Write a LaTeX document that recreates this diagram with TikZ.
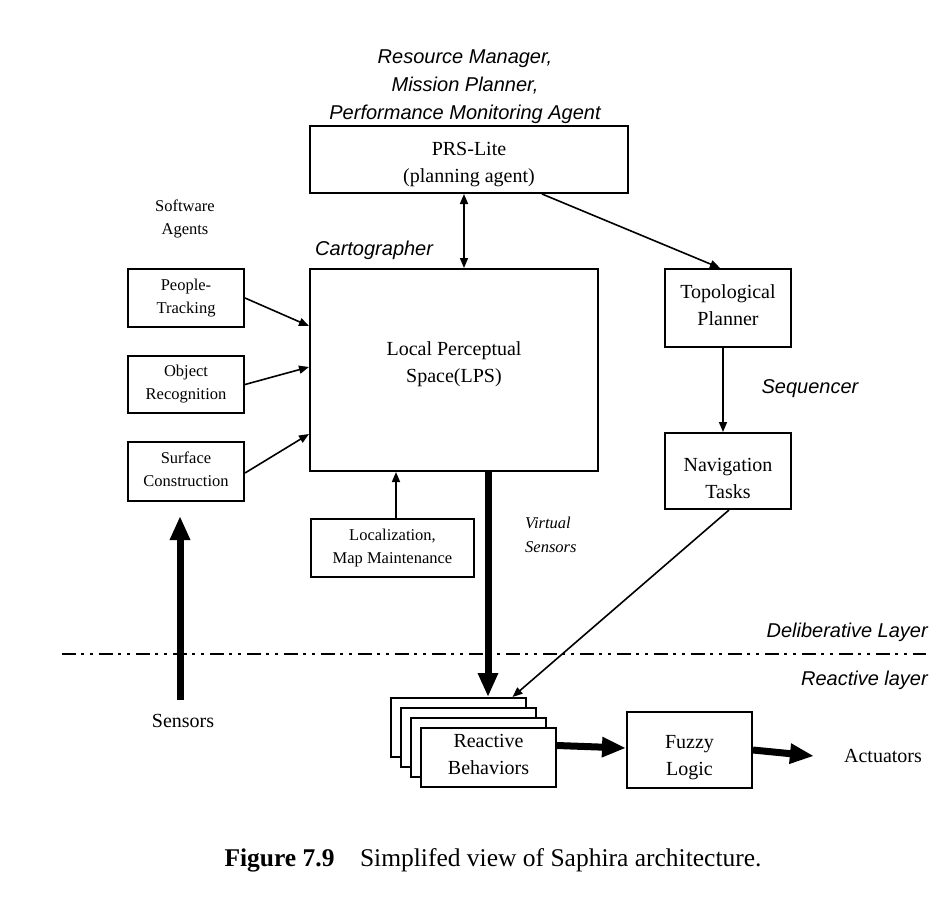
\documentclass[tikz,border=0pt]{standalone}
\usepackage{fontspec}
\setmainfont{Liberation Serif}
\newfontfamily\hvfont{Liberation Sans}
\usepackage{tikz}
\usetikzlibrary{arrows.meta,%
                shapes,positioning}

\newcommand{\liftby}[1]{\rule[-#1]{0pt}{#1}}
\newcommand{\sinkby}[1]{\rule{0pt}{#1}}

\tikzset{
  box/.style={draw, line width=2pt, inner sep=0pt, align=center,
    font=\fontsize{20}{27}\selectfont},
  smallbox/.style={box, font=\fontsize{16.5}{23}\selectfont},
  tag/.style={inner sep=0pt, align=center, font=\hvfont\itshape\fontsize{20}{28}\selectfont},
  note/.style={inner sep=0pt, align=center, font=\fontsize{16.5}{23}\selectfont},
  thin/.style={line width=1.6pt, -{Triangle[length=10pt,width=8pt]}},
  fat/.style={line width=7pt, -{Triangle[length=24pt,width=19pt]}},
  layerline/.style={line width=2pt, dash pattern=on 14pt off 5pt on 3pt off 6pt on 3pt off 6pt}
}

\begin{document}
\begin{tikzpicture}[x=1pt,y=-1pt]
\useasboundingbox (0,0) rectangle (936,904);
%top
\node[tag] (rm) at (465,86.5) {Resource Manager,\\Mission Planner,\\Performance Monitoring Agent};
\node[box, minimum width=318pt, minimum height=67pt] (prs) at (469,159.5) {\sinkby{24pt}PRS-Lite\\(planning agent)};
\node[tag, anchor=west] (carto) at (315,250) {Cartographer};
\node[box, minimum width=288pt, minimum height=202pt] (lps) at (454,370) {Local Perceptual\\Space(LPS)\liftby{15pt}};
\node[box, minimum width=126pt, minimum height=78pt] (topo) at (728,308) {Topological\\Planner\liftby{5pt}};
\node[box, minimum width=126pt, minimum height=76pt] (nav) at (728,471) {\sinkby{28pt}Navigation\\Tasks};
\node[tag] (seq) at (810,389) {Sequencer};
%software agents
\node[note] (soft) at (185,218.5) {Software\\Agents};
\node[smallbox, minimum width=116pt, minimum height=58pt] (people) at (186,298) {People-\\Tracking};
\node[smallbox, minimum width=116pt, minimum height=57pt] (object) at (186,384.5) {Object\\Recognition};
\node[smallbox, minimum width=116pt, minimum height=59pt] (surface) at (186,471.5) {Surface\\Construction\liftby{5pt}};
\node[smallbox, minimum width=163pt, minimum height=58pt] (loc) at (392.5,548) {Localization,\\Map Maintenance};
\node[note, anchor=west, font=\fontsize{16.5}{24}\selectfont\itshape, align=left] (virt) at (525,535) {Virtual\\Sensors};
%layers
\node[tag, anchor=east] (delib) at (928,632) {Deliberative Layer};
\node[tag, anchor=east] (react) at (928,680) {Reactive layer};
\coordinate (dl) at (62,654);
\coordinate (dr) at (926,654);
\draw[layerline] (dl) -- (dr);
%reactive part
\foreach \i in {3,2,1}
  \node[box, fill=white, minimum width=135pt, minimum height=59pt] (rb\i) at ({488.5-10*\i},{757.5-10*\i}) {};
\node[box, fill=white, minimum width=135pt, minimum height=59pt] (rb) at (488.5,757.5) {Reactive\\Behaviors\liftby{6pt}};
\node[box, minimum width=125pt, minimum height=76pt] (fuzzy) at (689.5,750) {\sinkby{28pt}Fuzzy\\Logic};
\node[inner sep=0pt, font=\fontsize{20}{27}\selectfont] (act) at (883,756) {Actuators};
\node[inner sep=0pt, font=\fontsize{20}{27}\selectfont] (sens) at (183,721) {Sensors};
\node[inner sep=0pt, font=\fontsize{25.5}{30}\selectfont] (cap) at (493,860) {\textbf{Figure 7.9}\quad Simplifed view of Saphira architecture.};
%connectors
\draw[line width=1.6pt, {Triangle[length=10pt,width=8pt]}-{Triangle[length=10pt,width=8pt]}] ([xshift=-5pt]prs.south) -- ([xshift=-5pt]prs.south |- lps.north);
\draw[thin] ([xshift=73pt]prs.south) -- ([xshift=-8pt]topo.north);
\draw[thin] ([xshift=-5pt]topo.south) -- ([xshift=-5pt]nav.north);
\draw[thin] ([xshift=1pt]nav.south) -- ([xshift=54pt]rb3.north);
\draw[thin] (people.east) -- ([yshift=44pt]lps.west);
\draw[thin] (object.east) -- ([yshift=3pt]lps.west);
\draw[thin] ([yshift=-1.5pt]surface.east) -- ([yshift=-64pt]lps.west);
\draw[thin] ([xshift=3.5pt]loc.north) -- ([xshift=3.5pt]loc.north |- lps.south);
\draw[fat] ([xshift=34pt]lps.south) -- ([xshift=34pt]lps.south |- rb3.north);
\draw[fat] ([yshift=12pt]rb.east) -- ([yshift=2pt]fuzzy.west);
\draw[fat] (fuzzy.east) -- ([xshift=-30pt]act.west);
\draw[fat] ([xshift=-3pt,yshift=14pt]sens.north) -- ([xshift=-6pt,yshift=-14pt]surface.south);
\end{tikzpicture}
\end{document}
